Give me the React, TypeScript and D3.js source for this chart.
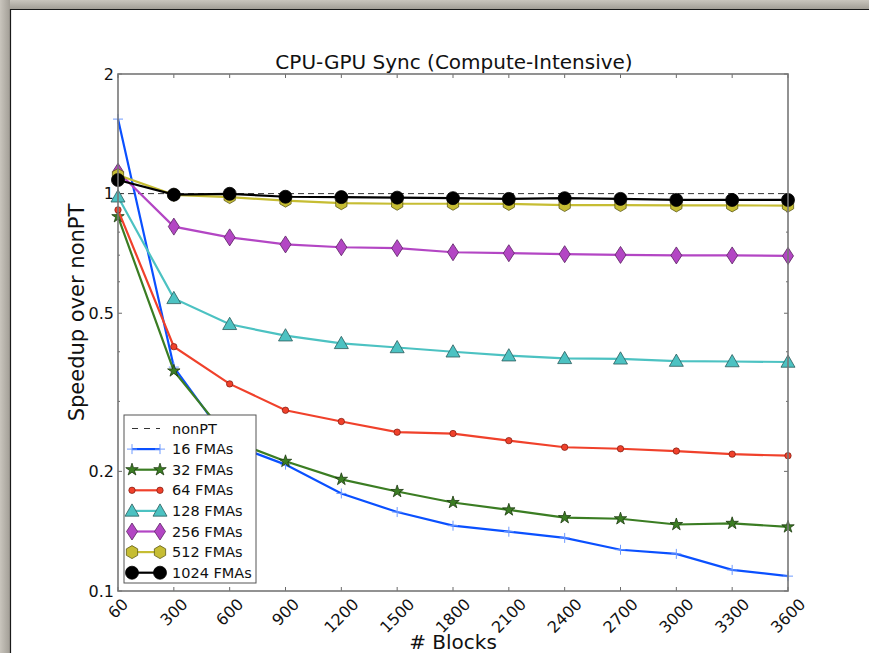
import React, { useEffect, useRef } from "react";
import * as d3 from "d3";

const blocks = [60, 300, 600, 900, 1200, 1500, 1800, 2100, 2400, 2700, 3000, 3300, 3600];

const fma16 = [1.54, 0.366, 0.235, 0.208, 0.176, 0.158, 0.146, 0.141, 0.136, 0.127, 0.124, 0.113, 0.109];
const fma32 = [0.875, 0.358, 0.24, 0.212, 0.191, 0.178, 0.167, 0.16, 0.153, 0.152, 0.147, 0.148, 0.145];
const fma64 = [0.91, 0.412, 0.332, 0.285, 0.267, 0.251, 0.249, 0.239, 0.23, 0.228, 0.225, 0.221, 0.219];
const fma128 = [0.982, 0.545, 0.469, 0.439, 0.42, 0.41, 0.4, 0.391, 0.385, 0.384, 0.379, 0.378, 0.377];
const fma256 = [1.135, 0.826, 0.776, 0.745, 0.733, 0.729, 0.712, 0.708, 0.704, 0.701, 0.699, 0.699, 0.697];
const fma512 = [1.114, 0.993, 0.98, 0.96, 0.946, 0.943, 0.943, 0.942, 0.936, 0.936, 0.934, 0.934, 0.933];
const fma1024 = [1.082, 0.994, 0.999, 0.982, 0.98, 0.977, 0.974, 0.97, 0.974, 0.97, 0.964, 0.964, 0.964];

const yTicks = [0.1, 0.2, 0.5, 1, 2];

const series = [
  { name: "16 FMAs", values: fma16, color: "#0a50ff", marker: "plus" },
  { name: "32 FMAs", values: fma32, color: "#3b7d23", marker: "star" },
  { name: "64 FMAs", values: fma64, color: "#f0412b", marker: "circleSmall" },
  { name: "128 FMAs", values: fma128, color: "#4cc2c2", marker: "triangle" },
  { name: "256 FMAs", values: fma256, color: "#b346c4", marker: "diamond" },
  { name: "512 FMAs", values: fma512, color: "#c6bd33", marker: "hexagon" },
  { name: "1024 FMAs", values: fma1024, color: "#000000", marker: "circle" },
];

const FONT = "DejaVu Sans, sans-serif";

function drawMarker(g, kind, x, y, color) {
  if (kind === "plus") {
    g.append("path")
      .attr("d", `M${x - 5},${y}H${x + 5}M${x},${y - 5}V${y + 5}`)
      .attr("stroke", "#6f9bff")
      .attr("stroke-width", 1);
  } else if (kind === "star") {
    g.append("path")
      .attr("d", d3.symbol(d3.symbolStar, 48)())
      .attr("transform", `translate(${x},${y})`)
      .attr("fill", color)
      .attr("stroke", "#1d3a10")
      .attr("stroke-width", 0.8);
  } else if (kind === "circleSmall") {
    g.append("circle")
      .attr("cx", x).attr("cy", y).attr("r", 3.2)
      .attr("fill", color).attr("stroke", "#7a1a10").attr("stroke-width", 0.7);
  } else if (kind === "triangle") {
    const s = 7;
    g.append("path")
      .attr("d", `M${x},${y - s}L${x + s},${y + s * 0.75}L${x - s},${y + s * 0.75}Z`)
      .attr("fill", color).attr("stroke", "#2c5c5c").attr("stroke-width", 0.8);
  } else if (kind === "diamond") {
    g.append("path")
      .attr("d", `M${x},${y - 8.5}L${x + 5.5},${y}L${x},${y + 8.5}L${x - 5.5},${y}Z`)
      .attr("fill", color).attr("stroke", "#5a2262").attr("stroke-width", 0.8);
  } else if (kind === "hexagon") {
    const pts = d3.range(6).map((i) => {
      const a = Math.PI / 6 + (i * Math.PI) / 3;
      return [x + 6.5 * Math.cos(a), y + 6.5 * Math.sin(a)];
    });
    g.append("path")
      .attr("d", "M" + pts.map((p) => p.join(",")).join("L") + "Z")
      .attr("fill", color).attr("stroke", "#5e5a18").attr("stroke-width", 0.8);
  } else {
    g.append("circle")
      .attr("cx", x).attr("cy", y).attr("r", 6.5)
      .attr("fill", color).attr("stroke", "#000").attr("stroke-width", 0.8);
  }
}

const App = () => {
  const svgRef = useRef(null);

  useEffect(() => {
    document.body.style.margin = "0";
    const svg = d3.select(svgRef.current);
    svg.selectAll("*").remove();

    const W = 869, H = 653;
    svg.attr("width", W).attr("height", H);

    // window frame
    const defs = svg.append("defs");
    const gradTop = defs.append("linearGradient").attr("id", "ft").attr("x1", 0).attr("y1", 0).attr("x2", 0).attr("y2", 1);
    gradTop.append("stop").attr("offset", 0).attr("stop-color", "#c9c5bd");
    gradTop.append("stop").attr("offset", 1).attr("stop-color", "#a29e96");
    const gradLeft = defs.append("linearGradient").attr("id", "fl").attr("x1", 0).attr("y1", 0).attr("x2", 1).attr("y2", 0);
    gradLeft.append("stop").attr("offset", 0).attr("stop-color", "#c9c5bd");
    gradLeft.append("stop").attr("offset", 1).attr("stop-color", "#a29e96");

    svg.append("rect").attr("width", W).attr("height", H).attr("fill", "#fff");
    svg.append("rect").attr("x", 0).attr("y", 0).attr("width", W).attr("height", 9).attr("fill", "url(#ft)");
    svg.append("rect").attr("x", 0).attr("y", 0).attr("width", 10).attr("height", H).attr("fill", "url(#fl)");
    svg.append("line").attr("x1", 10).attr("x2", W).attr("y1", 9.5).attr("y2", 9.5).attr("stroke", "#1a1a1a").attr("stroke-width", 1.2);
    svg.append("line").attr("x1", 10.5).attr("x2", 10.5).attr("y1", 9).attr("y2", H).attr("stroke", "#1a1a1a").attr("stroke-width", 1.2);

    const left = 118, right = 788, top = 74, bottom = 591;

    const x = d3.scalePoint().domain(blocks.map(String)).range([left, right]);
    const y = d3.scaleLog().domain([0.1, 2]).range([bottom, top]);

    const g = svg.append("g");

    // minor + major ticks
    const minor = [];
    [0.1, 1].forEach((d) => d3.range(1, 10).forEach((k) => { const v = d * k; if (v >= 0.1 && v <= 2.0001) minor.push(v); }));
    const axisCol = "#777";
    minor.forEach((v) => {
      const major = yTicks.some((t) => Math.abs(t - v) < 1e-9);
      const len = major ? 4 : 2;
      g.append("line").attr("x1", left).attr("x2", left + len).attr("y1", y(v)).attr("y2", y(v)).attr("stroke", "#444").attr("stroke-width", 0.8);
      g.append("line").attr("x1", right).attr("x2", right - len).attr("y1", y(v)).attr("y2", y(v)).attr("stroke", "#444").attr("stroke-width", 0.8);
    });
    blocks.forEach((b) => {
      const xv = x(String(b));
      g.append("line").attr("x1", xv).attr("x2", xv).attr("y1", bottom).attr("y2", bottom - 4).attr("stroke", "#444").attr("stroke-width", 0.8);
      g.append("line").attr("x1", xv).attr("x2", xv).attr("y1", top).attr("y2", top + 4).attr("stroke", "#444").attr("stroke-width", 0.8);
      // rotated label, centred on the tick like matplotlib's rotation=45
      const t = g.append("text")
        .attr("text-anchor", "middle")
        .attr("dy", "0.35em")
        .attr("font-family", FONT)
        .attr("font-size", 16)
        .attr("fill", "#111")
        .text(b);
      const w = t.node().getComputedTextLength();
      const bh = (w + 12) * Math.SQRT1_2;
      t.attr("transform", `translate(${xv},${bottom + 6 + bh / 2}) rotate(-45)`);
    });
    yTicks.forEach((t) => {
      g.append("text")
        .attr("x", left - 4)
        .attr("y", y(t))
        .attr("dy", "0.35em")
        .attr("text-anchor", "end")
        .attr("font-family", FONT)
        .attr("font-size", 16)
        .attr("fill", "#111")
        .text(t);
    });

    // nonPT reference
    g.append("line")
      .attr("x1", left).attr("x2", right).attr("y1", y(1)).attr("y2", y(1))
      .attr("stroke", "#333").attr("stroke-width", 1).attr("stroke-dasharray", "6,4");

    const line = d3.line().x((d, i) => x(String(blocks[i]))).y((d) => y(d));

    series.forEach((s) => {
      g.append("path")
        .datum(s.values)
        .attr("d", line)
        .attr("fill", "none")
        .attr("stroke", s.color)
        .attr("stroke-width", 2.2);
      s.values.forEach((v, i) => drawMarker(g, s.marker, x(String(blocks[i])), y(v), s.color));
    });

    // spines
    g.append("rect")
      .attr("x", left).attr("y", top).attr("width", right - left).attr("height", bottom - top)
      .attr("fill", "none").attr("stroke", axisCol).attr("stroke-width", 1.6);

    // legend
    const lg = svg.append("g").attr("transform", "translate(124,415)");
    lg.append("rect").attr("width", 132).attr("height", 168).attr("fill", "#fff").attr("stroke", "#555").attr("stroke-width", 1);
    const rowY = (i) => 13.5 + i * 20.6;
    lg.append("line").attr("x1", 8).attr("x2", 36).attr("y1", rowY(0)).attr("y2", rowY(0))
      .attr("stroke", "#333").attr("stroke-width", 1).attr("stroke-dasharray", "6,6");
    lg.append("text").attr("x", 48).attr("y", rowY(0)).attr("dy", "0.35em")
      .attr("font-family", FONT).attr("font-size", 14.5).attr("fill", "#111").text("nonPT");
    series.forEach((s, i) => {
      const yy = rowY(i + 1);
      lg.append("line").attr("x1", 8).attr("x2", 36).attr("y1", yy).attr("y2", yy)
        .attr("stroke", s.color).attr("stroke-width", 2.2);
      drawMarker(lg, s.marker, 8, yy, s.color);
      drawMarker(lg, s.marker, 36, yy, s.color);
      lg.append("text").attr("x", 48).attr("y", yy).attr("dy", "0.35em")
        .attr("font-family", FONT).attr("font-size", 14.5).attr("fill", "#111").text(s.name);
    });

    // titles
    svg.append("text").attr("x", (left + right) / 2 + 1).attr("y", 69)
      .attr("text-anchor", "middle").attr("font-family", FONT).attr("font-size", 20).attr("fill", "#111")
      .text("CPU-GPU Sync (Compute-Intensive)");
    svg.append("text").attr("x", (left + right) / 2).attr("y", 649)
      .attr("text-anchor", "middle").attr("font-family", FONT).attr("font-size", 20).attr("fill", "#111")
      .text("# Blocks");
    svg.append("text")
      .attr("transform", `translate(84,${(top + bottom) / 2 - 20}) rotate(-90)`)
      .attr("text-anchor", "middle").attr("font-family", FONT).attr("font-size", 21).attr("fill", "#111")
      .text("Speedup over nonPT");
  }, []);

  return (
    <div>
      <svg ref={svgRef} style={{ display: "block" }}></svg>
    </div>
  );
};

export default App;
